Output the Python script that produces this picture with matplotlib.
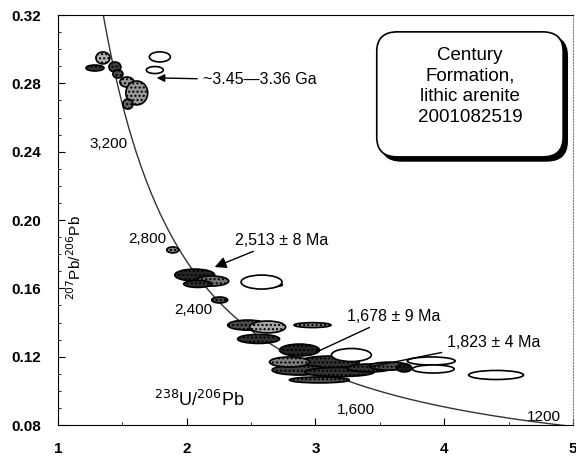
import numpy as np
import matplotlib.pyplot as plt
from matplotlib.patches import Ellipse, FancyBboxPatch

plt.rcParams['font.family'] = ['Liberation Sans', 'DejaVu Sans']

# decay constants (per year) and 238U/235U, used for the concordia reference curve
L238 = 1.55125e-10
L235 = 9.8485e-10
U_RATIO = 137.88

# ages (Ma) labelled on the concordia, with label positions
age_labels = ['3,200', '2,800', '2,400', '2000', '1,600', '1200']
age_label_x = [1.395, 1.69, 2.054, 2.953, 3.318, 4.775]
age_label_y = [0.2445, 0.1889, 0.1473, 0.1151, 0.0888, 0.0847]

# analysis ellipses: centre x, centre y, width, height, fill (None = open)
ell_x = [1.349, 1.287, 1.442, 1.465, 1.535, 1.612, 1.543, 1.791, 1.752,
         1.891, 2.062, 2.194, 2.085, 2.581, 2.628, 2.256, 2.473, 2.628, 2.558, 2.977,
         2.876, 3.109, 2.876, 3.186, 2.798, 3.279, 3.419, 3.574, 3.899, 3.915, 3.69, 4.403, 3.03]
ell_y = [0.2949, 0.2890, 0.2896, 0.2855, 0.2808, 0.2744, 0.2679, 0.2955, 0.2878,
         0.1825, 0.1678, 0.1643, 0.1626, 0.1637, 0.1620, 0.1532, 0.1385, 0.1374, 0.1304, 0.1385,
         0.1239, 0.1169, 0.1122, 0.1110, 0.1169, 0.1210, 0.1134, 0.1145, 0.1175, 0.1128, 0.1134, 0.1093, 0.1064]
ell_w = [0.109, 0.14, 0.093, 0.078, 0.109, 0.17, 0.078, 0.163, 0.132,
         0.093, 0.31, 0.264, 0.217, 0.318, 0.23, 0.124, 0.31, 0.28, 0.326, 0.287,
         0.31, 0.465, 0.426, 0.54, 0.31, 0.31, 0.35, 0.31, 0.372, 0.326, 0.116, 0.426, 0.465]
ell_h = [0.0070, 0.0035, 0.0059, 0.0047, 0.0059, 0.014, 0.0059, 0.0059, 0.0041,
         0.0035, 0.0070, 0.0059, 0.0041, 0.0082, 0.0023, 0.0035, 0.0059, 0.0070, 0.0053, 0.0029,
         0.0070, 0.0070, 0.0059, 0.0053, 0.0059, 0.0076, 0.0047, 0.0047, 0.0047, 0.0047, 0.0047, 0.0053, 0.0035]
ell_fill = ['0.7', '0.2', '0.25', '0.3', '0.6', '0.6', '0.4', None, None,
            '0.5', '0.15', '0.45', '0.2', None, '0.2', '0.3', '0.3', '0.65', '0.2', '0.5',
            '0.15', '0.2', '0.25', '0.2', '0.5', None, '0.2', '0.3', None, None, '0.1', None, '0.3']

fig = plt.figure(figsize=(5.76, 4.63), dpi=100)
ax = fig.add_axes([0.1007, 0.082, 0.894, 0.8855])

# concordia
t = np.linspace(1100e6, 3800e6, 400)
cx = 1.0 / (np.exp(L238 * t) - 1)
cy = (np.exp(L235 * t) - 1) / (np.exp(L238 * t) - 1) / U_RATIO
ax.plot(cx, cy, color='0.2', lw=1.0, zorder=2)

for lab, lx, ly in zip(age_labels, age_label_x, age_label_y):
    ax.text(lx, ly, lab, fontsize=11, ha='center', va='center', zorder=1)

for x, y, w, h, f in zip(ell_x, ell_y, ell_w, ell_h, ell_fill):
    if f is None:
        e = Ellipse((x, y), w, h, facecolor='white', edgecolor='black', lw=1.2, zorder=4)
    else:
        e = Ellipse((x, y), w, h, facecolor=f, edgecolor='black', lw=1.2, hatch='....', zorder=3)
    ax.add_patch(e)

# annotations
ax.annotate('~3.45\u20143.36 Ga', xy=(1.767, 0.2832), xytext=(2.124, 0.2820),
            fontsize=11.5, va='center', zorder=6,
            arrowprops=dict(arrowstyle='-|>', color='black', lw=1.0, shrinkA=2, shrinkB=0))
ax.annotate('2,513 \u00b1 8 Ma', xy=(2.217, 0.1725), xytext=(2.372, 0.1883),
            fontsize=11.5, va='center', zorder=6,
            arrowprops=dict(arrowstyle='-|>,head_length=0.6,head_width=0.3', color='black',
                            lw=1.0, shrinkA=2, shrinkB=0))
ax.annotate('1,678 \u00b1 9 Ma', xy=(2.992, 0.1222), xytext=(3.248, 0.1438),
            fontsize=11.5, va='center', zorder=6,
            arrowprops=dict(arrowstyle='-', color='black', lw=1.0, shrinkA=2, shrinkB=0))
ax.annotate('1,823 \u00b1 4 Ma', xy=(3.419, 0.1140), xytext=(4.023, 0.1286),
            fontsize=11.5, va='center', zorder=6,
            arrowprops=dict(arrowstyle='-', color='black', lw=1.0, shrinkA=2, shrinkB=0))

# sample box with drop shadow
shadow = FancyBboxPatch((0.627, 0.644), 0.362, 0.305, boxstyle='round,pad=0,rounding_size=0.04',
                        transform=ax.transAxes, facecolor='black', edgecolor='black',
                        mutation_aspect=1.2, zorder=7)
box = FancyBboxPatch((0.619, 0.654), 0.362, 0.305, boxstyle='round,pad=0,rounding_size=0.04',
                     transform=ax.transAxes, facecolor='white', edgecolor='black', lw=1.2,
                     mutation_aspect=1.2, zorder=8)
ax.add_patch(shadow)
ax.add_patch(box)
ax.text(0.80, 0.826, 'Century\nFormation,\nlithic arenite\n2001082519',
        transform=ax.transAxes, fontsize=13.5, ha='center', va='center', linespacing=1.28,
        zorder=9)

ax.text(2.1, 0.0946, r'$^{238}$U/$^{206}$Pb', fontsize=13, ha='center', va='center')
ax.text(1.132, 0.178, r'$^{207}$Pb/$^{206}$Pb', fontsize=11, ha='center', va='center',
        rotation=90)

ax.set_xlim(1, 5)
ax.set_ylim(0.08, 0.32)
ax.set_xticks([1, 2, 3, 4, 5])
ax.set_xticklabels(['1', '2', '3', '4', '5'])
ax.set_yticks([0.08, 0.12, 0.16, 0.20, 0.24, 0.28, 0.32])
ax.set_yticklabels(['0.08', '0.12', '0.16', '0.20', '0.24', '0.28', '0.32'])
ax.set_xticks([1.5, 2.5, 3.5, 4.5], minor=True)
ax.set_yticks(np.arange(0.08, 0.321, 0.01), minor=True)
ax.tick_params(direction='in', length=5, labelsize=11, pad=12)
ax.tick_params(which='minor', direction='in', length=2.5)
for lab in ax.get_xticklabels() + ax.get_yticklabels():
    lab.set_fontweight('bold')
ax.spines['right'].set_linestyle(':')
ax.spines['right'].set_color('0.5')

plt.savefig('out.png', dpi=100)
